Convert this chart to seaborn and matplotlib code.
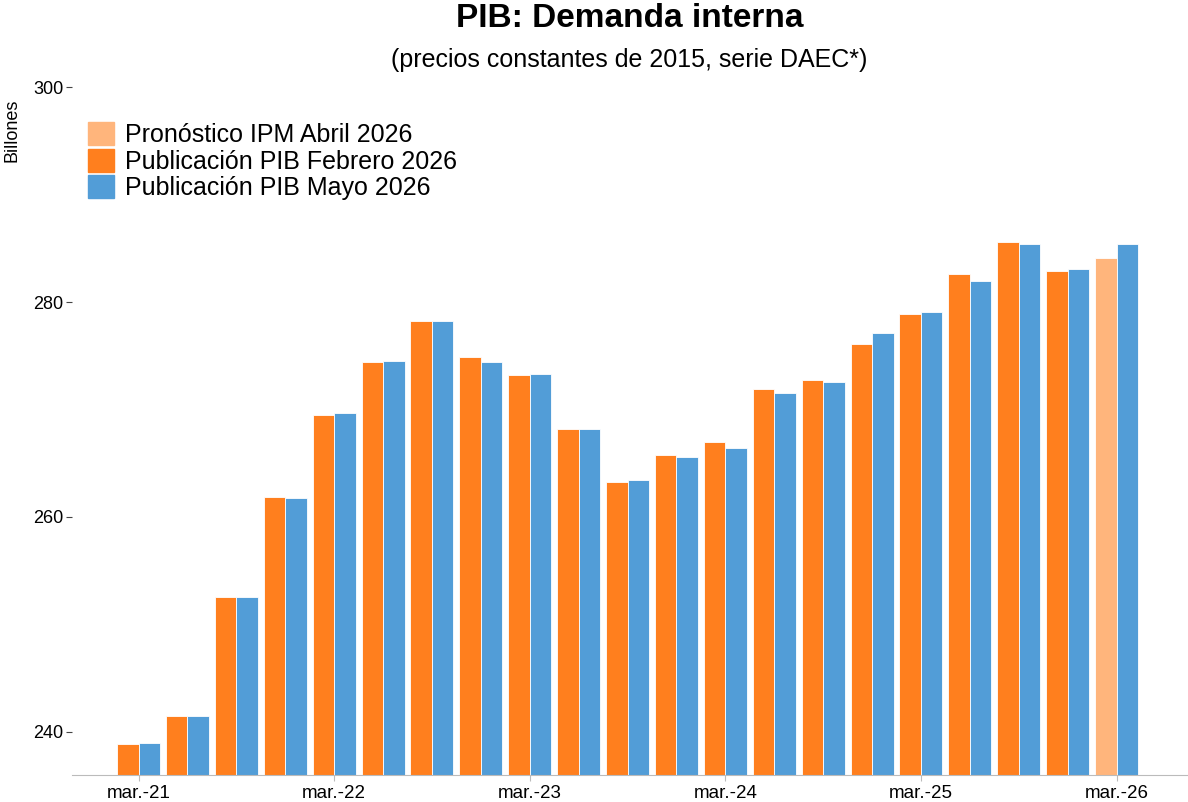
import pandas as pd
import numpy as np
import seaborn as sns
import matplotlib.pyplot as plt
from matplotlib.patches import Patch

trimestres = ['mar.-21', 'jun.-21', 'sep.-21', 'dic.-21',
              'mar.-22', 'jun.-22', 'sep.-22', 'dic.-22',
              'mar.-23', 'jun.-23', 'sep.-23', 'dic.-23',
              'mar.-24', 'jun.-24', 'sep.-24', 'dic.-24',
              'mar.-25', 'jun.-25', 'sep.-25', 'dic.-25',
              'mar.-26']

# publicacion febrero 2026 (el ultimo valor es el pronostico IPM abril 2026)
pib_febrero = [238.9, 241.5, 252.6, 261.9,
               269.5, 274.4, 278.2, 274.9,
               273.2, 268.2, 263.3, 265.8,
               267.0, 271.9, 272.7, 276.1,
               278.9, 282.6, 285.6, 282.9,
               284.1]
pib_mayo = [239.0, 241.5, 252.6, 261.8,
            269.7, 274.5, 278.2, 274.4,
            273.3, 268.2, 263.4, 265.6,
            266.4, 271.5, 272.6, 277.1,
            279.1, 282.0, 285.4, 283.1,
            285.4]

series = ['Publicación PIB Febrero 2026', 'Publicación PIB Mayo 2026']
pronostico = 'Pronóstico IPM Abril 2026'
colores = {series[0]: '#FF7F1E', series[1]: '#529DD7', pronostico: '#FFB57C'}

df = pd.DataFrame({
    'trimestre': trimestres * 2,
    'serie': [series[0]] * len(trimestres) + [series[1]] * len(trimestres),
    'valor': pib_febrero + pib_mayo,
})

sns.set_style('white')
plt.rcParams['font.family'] = ['Liberation Sans', 'DejaVu Sans']
plt.rcParams['text.color'] = 'black'
plt.rcParams['axes.labelcolor'] = 'black'
plt.rcParams['xtick.labelcolor'] = 'black'
plt.rcParams['ytick.labelcolor'] = 'black'

fig = plt.figure(figsize=(11.88, 8.02), dpi=100)
ax = fig.add_axes([0.0606, 0.0337, 0.9394, 0.8578])

sns.barplot(data=df, x='trimestre', y='valor', hue='serie', hue_order=series,
            palette=colores, saturation=1, width=0.88, gap=0,
            edgecolor='white', linewidth=0.6, legend=False, ax=ax)

# el ultimo dato de febrero es el pronostico
ax.patches[len(trimestres) - 1].set_facecolor(colores[pronostico])

ax.set_ylim(236, 300)
ax.set_xlim(-1.36, 21.46)
ax.set_yticks([240, 260, 280, 300])
pos = list(range(0, len(trimestres), 4))
ax.set_xticks(pos)
ax.set_xticklabels([trimestres[i] for i in pos], fontsize=13.5)
ax.tick_params(axis='y', labelsize=13, length=4, color='#444444', left=True, pad=2)
ax.tick_params(axis='x', length=4, color='#bbbbbb', bottom=True, pad=3)
ax.set_xlabel('')
ax.set_ylabel('Billones', fontsize=13)
ax.yaxis.set_label_coords(-0.046, 0.9375)

for s in ['top', 'right', 'left']:
    ax.spines[s].set_visible(False)
ax.spines['bottom'].set_color('#bbbbbb')

handles = [Patch(color=colores[pronostico]), Patch(color=colores[series[0]]),
           Patch(color=colores[series[1]])]
ax.legend(handles, [pronostico] + series, loc='upper left',
          bbox_to_anchor=(0.0145, 0.949), frameon=False, fontsize=18,
          handlelength=1.04, handleheight=1.04, handletextpad=0.45,
          labelspacing=0.06, borderpad=0, borderaxespad=0)

fig.text(0.53, 0.977, 'PIB: Demanda interna', ha='center', va='center',
         fontsize=24, fontweight='bold')
fig.text(0.53, 0.925, '(precios constantes de 2015, serie DAEC*)', ha='center',
         va='center', fontsize=18)

plt.savefig('out.png', dpi=100)
